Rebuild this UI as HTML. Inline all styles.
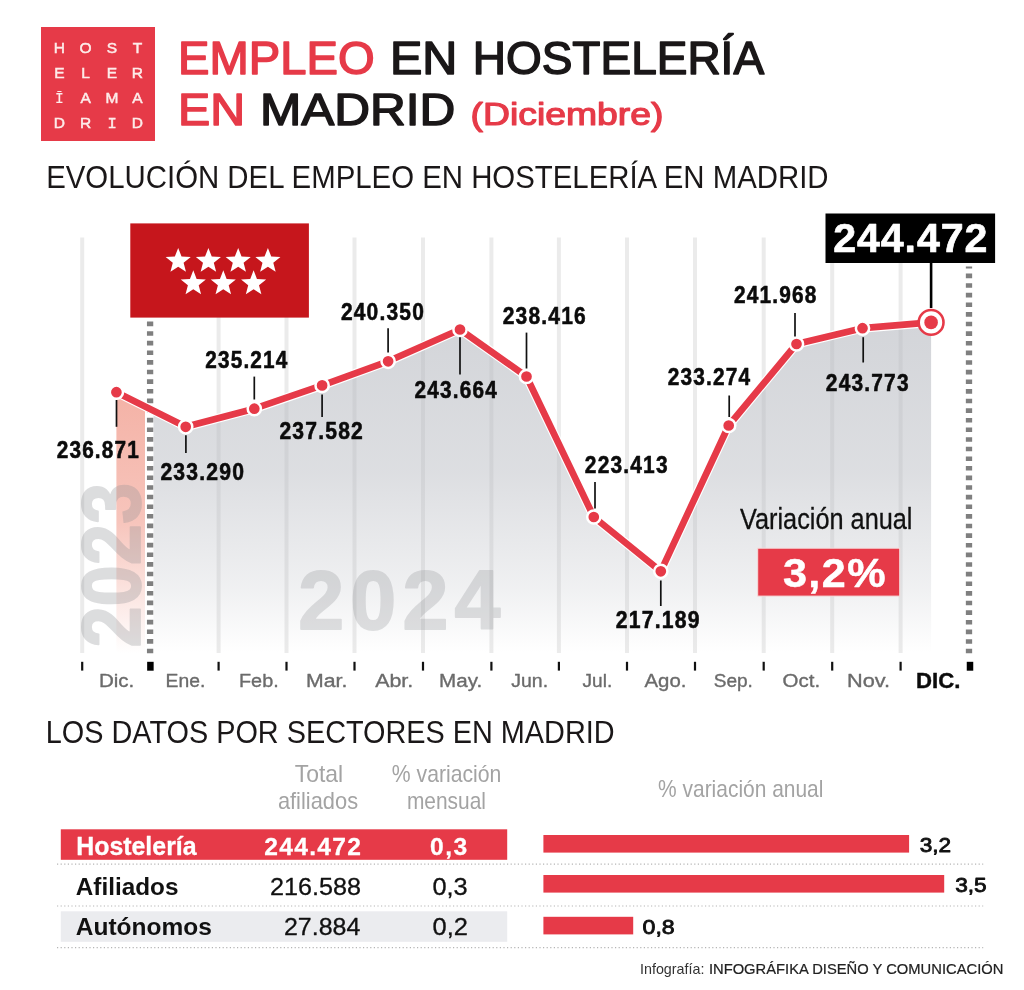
<!DOCTYPE html>
<html lang="es"><head><meta charset="utf-8">
<title>Empleo en hostelería en Madrid (Diciembre)</title>
<style>
html,body{margin:0;padding:0;background:#fff;}
body{width:1024px;height:990px;overflow:hidden;}
svg{display:block;font-family:"Liberation Sans", Arial, Helvetica, sans-serif;}
</style></head><body>
<svg width="1024" height="990" viewBox="0 0 1024 990" role="img" aria-label="Empleo en hostelería en Madrid">
<defs>
<linearGradient id="gfill" gradientUnits="userSpaceOnUse" x1="0" y1="325" x2="0" y2="653"><stop offset="0" stop-color="#b6b9c0" stop-opacity="0.6"/><stop offset="0.45" stop-color="#b6b9c0" stop-opacity="0.47"/><stop offset="0.8" stop-color="#b6b9c0" stop-opacity="0.21"/><stop offset="1" stop-color="#b6b9c0" stop-opacity="0"/></linearGradient>
<linearGradient id="pfill" gradientUnits="userSpaceOnUse" x1="0" y1="392" x2="0" y2="653"><stop offset="0" stop-color="#f4b2a6"/><stop offset="0.5" stop-color="#f7c5bc"/><stop offset="1" stop-color="#ffffff"/></linearGradient>
</defs>
<rect width="1024" height="990" fill="#ffffff"/>
<rect x="41" y="27" width="114" height="114" fill="#e63a48"/>
<g font-size="15.5" fill="#fdecea" stroke="#fdecea" stroke-width="0.5" text-anchor="middle">
<text x="59.4 85.6 112.0 137.4" y="52.5">HOST</text>
<text x="59.4 85.6 112.0 137.4" y="78.0">ELER</text>
<text x="59.4 85.6 112.0 137.4" y="103.2"><tspan font-family='"Liberation Mono", monospace' font-size="14.6" stroke-width="0.15">Ī</tspan>AMA</text>
<text x="59.4 85.6 112.0 137.4" y="128.1">DR<tspan font-family='"Liberation Mono", monospace' font-size="15.4">I</tspan>D</text>
</g>
<text x="178.1" y="74.3" font-size="45.6" fill="#e63a48" stroke="#e63a48" stroke-width="1.5" stroke-linejoin="round" textLength="196.6" lengthAdjust="spacingAndGlyphs">EMPLEO</text>
<text x="389.9" y="74.3" font-size="45.6" fill="#1a1718" stroke="#1a1718" stroke-width="1.5" stroke-linejoin="round" textLength="67.4" lengthAdjust="spacingAndGlyphs">EN</text>
<text x="472.7" y="74.3" font-size="45.6" fill="#1a1718" stroke="#1a1718" stroke-width="1.5" stroke-linejoin="round" textLength="291.4" lengthAdjust="spacingAndGlyphs">HOSTELERÍA</text>
<text x="178.0" y="125.1" font-size="45.2" fill="#e63a48" stroke="#e63a48" stroke-width="1.5" stroke-linejoin="round" textLength="67.1" lengthAdjust="spacingAndGlyphs">EN</text>
<text x="259.9" y="125.1" font-size="45.2" fill="#1a1718" stroke="#1a1718" stroke-width="1.5" stroke-linejoin="round" textLength="195.4" lengthAdjust="spacingAndGlyphs">MADRID</text>
<text x="470.5" y="125.2" font-size="32.2" fill="#e63a48" stroke="#e63a48" stroke-width="1.2" stroke-linejoin="round" textLength="193.0" lengthAdjust="spacingAndGlyphs">(Diciembre)</text>
<text x="46.2" y="188.3" font-size="30.8" fill="#1a1718" textLength="782.4" lengthAdjust="spacingAndGlyphs">EVOLUCIÓN DEL EMPLEO EN HOSTELERÍA EN MADRID</text>
<g stroke="#ebebeb" stroke-width="4">
<line x1="82.2" y1="237.5" x2="82.2" y2="653.0"/>
<line x1="218.6" y1="237.5" x2="218.6" y2="653.0"/>
<line x1="286.5" y1="237.5" x2="286.5" y2="653.0"/>
<line x1="354.5" y1="237.5" x2="354.5" y2="653.0"/>
<line x1="423.0" y1="237.5" x2="423.0" y2="653.0"/>
<line x1="491.4" y1="237.5" x2="491.4" y2="653.0"/>
<line x1="558.9" y1="237.5" x2="558.9" y2="653.0"/>
<line x1="627.0" y1="237.5" x2="627.0" y2="653.0"/>
<line x1="695.0" y1="237.5" x2="695.0" y2="653.0"/>
<line x1="763.7" y1="237.5" x2="763.7" y2="653.0"/>
<line x1="832.2" y1="237.5" x2="832.2" y2="653.0"/>
<line x1="900.6" y1="237.5" x2="900.6" y2="653.0"/>
</g>
<path d="M116.4,392.2 L145.0,406.5 L145.0,653.0 L116.4,653.0 Z" fill="url(#pfill)"/>
<path d="M153.5,410.7 L185.7,426.8 L254.3,408.7 L322.1,385.4 L388.1,361.3 L460.0,329.5 L526.5,376.5 L593.8,517.0 L660.8,571.3 L728.7,425.5 L796.5,344.0 L862.5,328.2 L931.1,322.4 L931.1,653.0 L153.5,653.0 Z" fill="url(#gfill)"/>
<text x="298.3" y="629.3" font-size="82.6" font-weight="bold" fill="#8e9094" stroke="#8e9094" stroke-width="1.8" stroke-linejoin="round" textLength="202.1" lengthAdjust="spacing" opacity="0.27">2024</text>
<text transform="translate(139.7,647.6) rotate(-90)" font-size="83.2" font-weight="bold" fill="#8e9094" stroke="#8e9094" stroke-width="1.8" stroke-linejoin="round" opacity="0.3" textLength="164.9" lengthAdjust="spacingAndGlyphs">2023</text>
<line x1="150.1" y1="321.6" x2="150.1" y2="653.2" stroke="#7f7f7f" stroke-width="6.3" stroke-dasharray="4.6 5.02"/>
<line x1="969" y1="266.4" x2="969" y2="653.2" stroke="#7f7f7f" stroke-width="6.3" stroke-dasharray="4.6 5.02" stroke-dashoffset="2.42"/>
<rect x="130.3" y="223.4" width="178.6" height="94.2" fill="#c6161c"/>
<g fill="#ffffff">
<polygon points="178.20,247.90 181.54,256.51 190.75,257.02 183.60,262.85 185.96,271.78 178.20,266.78 170.44,271.78 172.80,262.85 165.65,257.02 174.86,256.51"/>
<polygon points="208.40,247.90 211.74,256.51 220.95,257.02 213.80,262.85 216.16,271.78 208.40,266.78 200.64,271.78 203.00,262.85 195.85,257.02 205.06,256.51"/>
<polygon points="238.20,247.90 241.54,256.51 250.75,257.02 243.60,262.85 245.96,271.78 238.20,266.78 230.44,271.78 232.80,262.85 225.65,257.02 234.86,256.51"/>
<polygon points="267.90,247.90 271.24,256.51 280.45,257.02 273.30,262.85 275.66,271.78 267.90,266.78 260.14,271.78 262.50,262.85 255.35,257.02 264.56,256.51"/>
<polygon points="193.30,270.30 196.64,278.91 205.85,279.42 198.70,285.25 201.06,294.18 193.30,289.18 185.54,294.18 187.90,285.25 180.75,279.42 189.96,278.91"/>
<polygon points="223.30,270.30 226.64,278.91 235.85,279.42 228.70,285.25 231.06,294.18 223.30,289.18 215.54,294.18 217.90,285.25 210.75,279.42 219.96,278.91"/>
<polygon points="253.60,270.30 256.94,278.91 266.15,279.42 259.00,285.25 261.36,294.18 253.60,289.18 245.84,294.18 248.20,285.25 241.05,279.42 250.26,278.91"/>
</g>
<polyline points="116.4,392.2 185.7,426.8 254.3,408.7 322.1,385.4 388.1,361.3 460.0,329.5 526.5,376.5 593.8,517.0 660.8,571.3 728.7,425.5 796.5,344.0 862.5,328.2 931.1,322.4" fill="none" stroke="#ffffff" stroke-width="9.0" stroke-linejoin="round" stroke-linecap="round"/>
<polyline points="116.4,392.2 185.7,426.8 254.3,408.7 322.1,385.4 388.1,361.3 460.0,329.5 526.5,376.5 593.8,517.0 660.8,571.3 728.7,425.5 796.5,344.0 862.5,328.2 931.1,322.4" fill="none" stroke="#e63a48" stroke-width="6.7" stroke-linejoin="round" stroke-linecap="round"/>
<g fill="#e63a48" stroke="#ffffff" stroke-width="2.5">
<circle cx="116.4" cy="392.2" r="6.6"/>
<circle cx="185.7" cy="426.8" r="6.6"/>
<circle cx="254.3" cy="408.7" r="6.6"/>
<circle cx="322.1" cy="385.4" r="6.6"/>
<circle cx="388.1" cy="361.3" r="6.6"/>
<circle cx="460.0" cy="329.5" r="6.6"/>
<circle cx="526.5" cy="376.5" r="6.6"/>
<circle cx="593.8" cy="517.0" r="6.6"/>
<circle cx="660.8" cy="571.3" r="6.6"/>
<circle cx="728.7" cy="425.5" r="6.6"/>
<circle cx="796.5" cy="344.0" r="6.6"/>
<circle cx="862.5" cy="328.2" r="6.6"/>
</g>
<circle cx="931.1" cy="322.4" r="12.4" fill="#ffffff" stroke="#e63a48" stroke-width="2.6"/>
<circle cx="931.1" cy="322.4" r="6.8" fill="#e63a48"/>
<g stroke="#111111" stroke-width="1.7">
<line x1="116.5" y1="400" x2="116.5" y2="426.8"/>
<line x1="185.9" y1="435.2" x2="185.9" y2="453"/>
<line x1="254.3" y1="376.6" x2="254.3" y2="399.5"/>
<line x1="322.1" y1="394.5" x2="322.1" y2="417"/>
<line x1="388.1" y1="328.2" x2="388.1" y2="352.4"/>
<line x1="460" y1="337.2" x2="460" y2="374.5"/>
<line x1="526.5" y1="332.6" x2="526.5" y2="368.5"/>
<line x1="595" y1="482" x2="595" y2="508.5"/>
<line x1="660.8" y1="580.5" x2="660.8" y2="606"/>
<line x1="729.2" y1="395.5" x2="729.2" y2="417"/>
<line x1="795" y1="313" x2="795" y2="336.4"/>
<line x1="863.2" y1="337.2" x2="863.2" y2="362.5"/>
</g>
<line x1="931.1" y1="262" x2="931.1" y2="308" stroke="#000" stroke-width="2.6"/>
<text x="56.7" y="457.9" font-size="23.0" font-weight="bold" fill="#0b0b0b" stroke="#0b0b0b" stroke-width="0.55" stroke-linejoin="round" textLength="83.3" lengthAdjust="spacingAndGlyphs" letter-spacing="1.3">236.871</text>
<text x="160.4" y="480.4" font-size="23.0" font-weight="bold" fill="#0b0b0b" stroke="#0b0b0b" stroke-width="0.55" stroke-linejoin="round" textLength="84.8" lengthAdjust="spacingAndGlyphs" letter-spacing="1.3">233.290</text>
<text x="205.3" y="367.8" font-size="23.0" font-weight="bold" fill="#0b0b0b" stroke="#0b0b0b" stroke-width="0.55" stroke-linejoin="round" textLength="83.2" lengthAdjust="spacingAndGlyphs" letter-spacing="1.3">235.214</text>
<text x="279.4" y="439.0" font-size="23.0" font-weight="bold" fill="#0b0b0b" stroke="#0b0b0b" stroke-width="0.55" stroke-linejoin="round" textLength="84.6" lengthAdjust="spacingAndGlyphs" letter-spacing="1.3">237.582</text>
<text x="340.9" y="319.8" font-size="23.0" font-weight="bold" fill="#0b0b0b" stroke="#0b0b0b" stroke-width="0.55" stroke-linejoin="round" textLength="84.1" lengthAdjust="spacingAndGlyphs" letter-spacing="1.3">240.350</text>
<text x="414.6" y="398.4" font-size="23.0" font-weight="bold" fill="#0b0b0b" stroke="#0b0b0b" stroke-width="0.55" stroke-linejoin="round" textLength="83.3" lengthAdjust="spacingAndGlyphs" letter-spacing="1.3">243.664</text>
<text x="502.7" y="324.0" font-size="23.0" font-weight="bold" fill="#0b0b0b" stroke="#0b0b0b" stroke-width="0.55" stroke-linejoin="round" textLength="84.2" lengthAdjust="spacingAndGlyphs" letter-spacing="1.3">238.416</text>
<text x="584.8" y="473.2" font-size="23.0" font-weight="bold" fill="#0b0b0b" stroke="#0b0b0b" stroke-width="0.55" stroke-linejoin="round" textLength="84.0" lengthAdjust="spacingAndGlyphs" letter-spacing="1.3">223.413</text>
<text x="615.8" y="627.5" font-size="23.0" font-weight="bold" fill="#0b0b0b" stroke="#0b0b0b" stroke-width="0.55" stroke-linejoin="round" textLength="84.9" lengthAdjust="spacingAndGlyphs" letter-spacing="1.3">217.189</text>
<text x="667.8" y="384.9" font-size="23.0" font-weight="bold" fill="#0b0b0b" stroke="#0b0b0b" stroke-width="0.55" stroke-linejoin="round" textLength="83.6" lengthAdjust="spacingAndGlyphs" letter-spacing="1.3">233.274</text>
<text x="733.9" y="303.2" font-size="23.0" font-weight="bold" fill="#0b0b0b" stroke="#0b0b0b" stroke-width="0.55" stroke-linejoin="round" textLength="83.7" lengthAdjust="spacingAndGlyphs" letter-spacing="1.3">241.968</text>
<text x="825.8" y="391.3" font-size="23.0" font-weight="bold" fill="#0b0b0b" stroke="#0b0b0b" stroke-width="0.55" stroke-linejoin="round" textLength="84.0" lengthAdjust="spacingAndGlyphs" letter-spacing="1.3">243.773</text>
<rect x="825.5" y="213.5" width="169.6" height="49.5" fill="#000000"/>
<text x="833.3" y="251.5" font-size="41.2" font-weight="bold" fill="#ffffff" stroke="#ffffff" stroke-width="0.7" stroke-linejoin="round" textLength="154.1" lengthAdjust="spacing">244.472</text>
<text x="740.0" y="529.4" font-size="28.6" fill="#111111" stroke="#111111" stroke-width="0.3" stroke-linejoin="round" textLength="172.5" lengthAdjust="spacingAndGlyphs">Variación anual</text>
<rect x="757.7" y="548.2" width="142" height="47.9" fill="#e63a48" stroke="#f6dcdc" stroke-width="1"/>
<text x="782.9" y="586.8" font-size="41.0" font-weight="bold" fill="#ffffff" stroke="#ffffff" stroke-width="0.5" stroke-linejoin="round" textLength="104.3" lengthAdjust="spacingAndGlyphs" letter-spacing="1.4">3,2%</text>
<g stroke="#111" stroke-width="2.2">
<line x1="82.2" y1="661.8" x2="82.2" y2="670.6"/>
<line x1="218.6" y1="661.8" x2="218.6" y2="670.6"/>
<line x1="286.5" y1="661.8" x2="286.5" y2="670.6"/>
<line x1="354.5" y1="661.8" x2="354.5" y2="670.6"/>
<line x1="423.0" y1="661.8" x2="423.0" y2="670.6"/>
<line x1="491.4" y1="661.8" x2="491.4" y2="670.6"/>
<line x1="558.9" y1="661.8" x2="558.9" y2="670.6"/>
<line x1="627.0" y1="661.8" x2="627.0" y2="670.6"/>
<line x1="695.0" y1="661.8" x2="695.0" y2="670.6"/>
<line x1="763.7" y1="661.8" x2="763.7" y2="670.6"/>
<line x1="832.2" y1="661.8" x2="832.2" y2="670.6"/>
<line x1="900.6" y1="661.8" x2="900.6" y2="670.6"/>
</g>
<line x1="150.4" y1="661.8" x2="150.4" y2="670.7" stroke="#000" stroke-width="6.5"/>
<line x1="970" y1="661.8" x2="970" y2="670.7" stroke="#000" stroke-width="6.5"/>
<text x="98.9" y="687.4" font-size="18.8" fill="#6b6b6b" stroke="#6b6b6b" stroke-width="0.35" stroke-linejoin="round" textLength="35.4" lengthAdjust="spacingAndGlyphs">Dic.</text>
<text x="165.6" y="687.4" font-size="18.8" fill="#6b6b6b" stroke="#6b6b6b" stroke-width="0.35" stroke-linejoin="round" textLength="39.7" lengthAdjust="spacingAndGlyphs">Ene.</text>
<text x="239.0" y="687.4" font-size="18.8" fill="#6b6b6b" stroke="#6b6b6b" stroke-width="0.35" stroke-linejoin="round" textLength="39.7" lengthAdjust="spacingAndGlyphs">Feb.</text>
<text x="306.0" y="687.4" font-size="18.8" fill="#6b6b6b" stroke="#6b6b6b" stroke-width="0.35" stroke-linejoin="round" textLength="41.3" lengthAdjust="spacingAndGlyphs">Mar.</text>
<text x="375.2" y="687.4" font-size="18.8" fill="#6b6b6b" stroke="#6b6b6b" stroke-width="0.35" stroke-linejoin="round" textLength="38.1" lengthAdjust="spacingAndGlyphs">Abr.</text>
<text x="439.1" y="687.4" font-size="18.8" fill="#6b6b6b" stroke="#6b6b6b" stroke-width="0.35" stroke-linejoin="round" textLength="43.1" lengthAdjust="spacingAndGlyphs">May.</text>
<text x="511.3" y="687.4" font-size="18.8" fill="#6b6b6b" stroke="#6b6b6b" stroke-width="0.35" stroke-linejoin="round" textLength="36.8" lengthAdjust="spacingAndGlyphs">Jun.</text>
<text x="582.5" y="687.4" font-size="18.8" fill="#6b6b6b" stroke="#6b6b6b" stroke-width="0.35" stroke-linejoin="round" textLength="29.7" lengthAdjust="spacingAndGlyphs">Jul.</text>
<text x="644.5" y="687.4" font-size="18.8" fill="#6b6b6b" stroke="#6b6b6b" stroke-width="0.35" stroke-linejoin="round" textLength="41.9" lengthAdjust="spacingAndGlyphs">Ago.</text>
<text x="713.7" y="687.4" font-size="18.8" fill="#6b6b6b" stroke="#6b6b6b" stroke-width="0.35" stroke-linejoin="round" textLength="39.2" lengthAdjust="spacingAndGlyphs">Sep.</text>
<text x="782.6" y="687.4" font-size="18.8" fill="#6b6b6b" stroke="#6b6b6b" stroke-width="0.35" stroke-linejoin="round" textLength="37.5" lengthAdjust="spacingAndGlyphs">Oct.</text>
<text x="847.0" y="687.4" font-size="18.8" fill="#6b6b6b" stroke="#6b6b6b" stroke-width="0.35" stroke-linejoin="round" textLength="43.1" lengthAdjust="spacingAndGlyphs">Nov.</text>
<text x="916.1" y="687.8" font-size="21.3" font-weight="bold" fill="#0b0b0b" stroke="#0b0b0b" stroke-width="0.4" stroke-linejoin="round" textLength="44.3" lengthAdjust="spacingAndGlyphs">DIC.</text>
<text x="45.8" y="742.6" font-size="30.8" fill="#1a1718" textLength="568.8" lengthAdjust="spacingAndGlyphs">LOS DATOS POR SECTORES EN MADRID</text>
<text x="294.8" y="782.0" font-size="23.2" fill="#a3a3a3" textLength="48.4" lengthAdjust="spacingAndGlyphs">Total</text>
<text x="277.9" y="808.5" font-size="23.2" fill="#a3a3a3" textLength="80.2" lengthAdjust="spacingAndGlyphs">afiliados</text>
<text x="391.8" y="782.0" font-size="23.2" fill="#a3a3a3" textLength="109.6" lengthAdjust="spacingAndGlyphs">% variación</text>
<text x="406.9" y="808.5" font-size="23.2" fill="#a3a3a3" textLength="79.1" lengthAdjust="spacingAndGlyphs">mensual</text>
<text x="658.1" y="796.8" font-size="23.2" fill="#a3a3a3" textLength="165.3" lengthAdjust="spacingAndGlyphs">% variación anual</text>
<rect x="60.8" y="829.3" width="446.4" height="30.5" fill="#e63a48"/>
<rect x="60.8" y="911.3" width="446.4" height="30.5" fill="#ebecef"/>
<g stroke="#b5b5b5" stroke-width="1.2" stroke-dasharray="1.2 2.4">
<line x1="57" y1="864.2" x2="983.2" y2="864.2"/>
<line x1="57" y1="906.0" x2="983.2" y2="906.0"/>
<line x1="57" y1="947.6" x2="983.2" y2="947.6"/>
</g>
<text x="76.2" y="854.7" font-size="25.0" font-weight="bold" fill="#ffffff" stroke="#ffffff" stroke-width="0.3" stroke-linejoin="round" textLength="120.4" lengthAdjust="spacingAndGlyphs">Hostelería</text>
<text x="264.3" y="854.7" font-size="24.6" font-weight="bold" fill="#ffffff" stroke="#ffffff" stroke-width="0.3" stroke-linejoin="round" textLength="96.7" lengthAdjust="spacing">244.472</text>
<text x="430.0" y="854.7" font-size="24.6" font-weight="bold" fill="#ffffff" stroke="#ffffff" stroke-width="0.3" stroke-linejoin="round" textLength="37.3" lengthAdjust="spacing">0,3</text>
<text x="75.8" y="895.1" font-size="24.8" font-weight="bold" fill="#111111" textLength="102.6" lengthAdjust="spacingAndGlyphs">Afiliados</text>
<text x="269.9" y="895.1" font-size="23.2" fill="#111111" stroke="#111111" stroke-width="0.3" stroke-linejoin="round" textLength="91.0" lengthAdjust="spacingAndGlyphs">216.588</text>
<text x="432.4" y="895.1" font-size="23.2" fill="#111111" stroke="#111111" stroke-width="0.3" stroke-linejoin="round" textLength="35.3" lengthAdjust="spacingAndGlyphs">0,3</text>
<text x="75.8" y="935.3" font-size="24.8" font-weight="bold" fill="#111111" textLength="136.0" lengthAdjust="spacingAndGlyphs">Autónomos</text>
<text x="284.0" y="935.2" font-size="23.2" fill="#111111" stroke="#111111" stroke-width="0.3" stroke-linejoin="round" textLength="76.3" lengthAdjust="spacingAndGlyphs">27.884</text>
<text x="432.5" y="935.2" font-size="23.2" fill="#111111" stroke="#111111" stroke-width="0.3" stroke-linejoin="round" textLength="35.4" lengthAdjust="spacingAndGlyphs">0,2</text>
<g fill="#e63a48">
<rect x="543.4" y="835.0" width="365.7" height="17.6"/>
<rect x="543.4" y="875.0" width="400.8" height="17.6"/>
<rect x="543.4" y="916.8" width="89.8" height="17.6"/>
</g>
<text x="919.7" y="852.3" font-size="21.0" fill="#111111" stroke="#111111" stroke-width="0.85" stroke-linejoin="round" textLength="31.5" lengthAdjust="spacingAndGlyphs">3,2</text>
<text x="955.2" y="891.8" font-size="21.0" fill="#111111" stroke="#111111" stroke-width="0.85" stroke-linejoin="round" textLength="31.5" lengthAdjust="spacingAndGlyphs">3,5</text>
<text x="642.5" y="934.3" font-size="21.0" fill="#111111" stroke="#111111" stroke-width="0.85" stroke-linejoin="round" textLength="32.2" lengthAdjust="spacingAndGlyphs">0,8</text>
<text x="640.0" y="974.4" font-size="13.9" fill="#333333" textLength="64.4" lengthAdjust="spacingAndGlyphs">Infografía:</text>
<text x="708.9" y="974.4" font-size="13.9" fill="#222222" stroke="#222222" stroke-width="0.2" stroke-linejoin="round" textLength="294.5" lengthAdjust="spacingAndGlyphs">INFOGRÁFIKA DISEÑO Y COMUNICACIÓN</text>
</svg>
</body></html>
